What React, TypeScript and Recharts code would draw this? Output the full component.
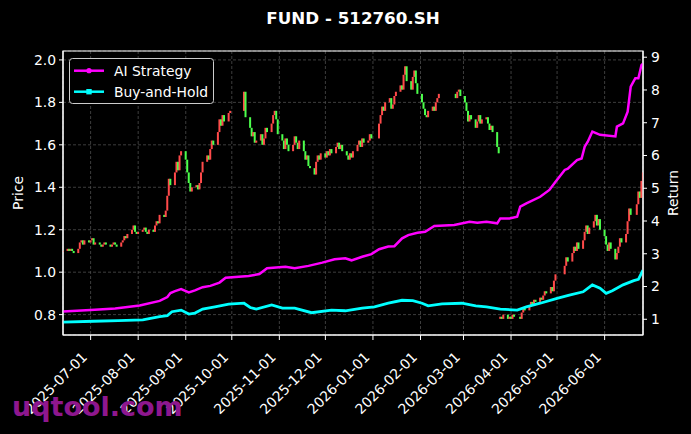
import React from 'react';
import { ComposedChart, Bar, Line, XAxis, YAxis, CartesianGrid, Legend, ReferenceArea } from 'recharts';

const FONT = '"DejaVu Sans", sans-serif';
const RED = '#ff4a4a';
const GREEN = '#4cff4c';
const MAGENTA = '#ff00ff';
const CYAN = '#00ffff';

const X_START = '2025-06-13';
const X_END = '2026-06-26';
const MONTH_TICKS = [
  '2025-07-01', '2025-08-01', '2025-09-01', '2025-10-01', '2025-11-01', '2025-12-01',
  '2026-01-01', '2026-02-01', '2026-03-01', '2026-04-01', '2026-05-01', '2026-06-01',
];
const PRICE_TICKS = [0.8, 1.0, 1.2, 1.4, 1.6, 1.8, 2.0];
const RETURN_TICKS = [1, 2, 3, 4, 5, 6, 7, 8, 9];
const PRICE_DOMAIN = [0.704, 2.042];
const RETURN_DOMAIN = [0.52, 9.19];

// exchange holidays (no candles on these weekdays)
const HOLIDAYS = [
  '2025-10-01', '2025-10-02', '2025-10-03', '2025-10-06', '2025-10-07', '2025-10-08',
  '2026-01-01', '2026-01-02',
  '2026-02-16', '2026-02-17', '2026-02-18', '2026-02-19', '2026-02-20', '2026-02-23',
  '2026-04-06', '2026-05-01', '2026-05-04', '2026-05-05', '2026-06-19',
];

const FIRST_OPEN = 1.10;
const SPLIT_DATE = '2026-03-25';
const SPLIT_RATIO = 2;

// daily closes, one list per month
const close2025_06 = [1.10, 1.11, 1.10, 1.11, 1.10, 1.09, 1.11, 1.14, 1.15, 1.13, 1.15, 1.14];
const close2025_07 = [1.15, 1.16, 1.13, 1.14, 1.13, 1.12, 1.13, 1.14, 1.13, 1.12, 1.13, 1.14, 1.13, 1.12, 1.14, 1.15, 1.17, 1.16, 1.18, 1.20, 1.22, 1.19, 1.18];
const close2025_08 = [1.19, 1.20, 1.21, 1.19, 1.18, 1.20, 1.19, 1.22, 1.24, 1.23, 1.27, 1.26, 1.29, 1.36, 1.44, 1.41, 1.47, 1.52, 1.48, 1.55, 1.57];
const close2025_09 = [1.53, 1.47, 1.42, 1.38, 1.40, 1.41, 1.39, 1.42, 1.47, 1.52, 1.55, 1.53, 1.58, 1.62, 1.60, 1.66, 1.72, 1.69, 1.74, 1.71, 1.75, 1.76];
const close2025_10 = [1.85, 1.73, 1.68, 1.64, 1.66, 1.61, 1.62, 1.65, 1.60, 1.63, 1.68, 1.66, 1.70, 1.74, 1.76, 1.72, 1.65];
const close2025_11 = [1.62, 1.58, 1.63, 1.60, 1.57, 1.60, 1.64, 1.61, 1.58, 1.62, 1.57, 1.53, 1.55, 1.50, 1.49, 1.46, 1.52, 1.55, 1.53, 1.56];
const close2025_12 = [1.54, 1.57, 1.55, 1.58, 1.56, 1.59, 1.61, 1.58, 1.60, 1.57, 1.55, 1.53, 1.56, 1.54, 1.57, 1.60, 1.62, 1.59, 1.63, 1.61, 1.62, 1.65, 1.63];
const close2026_01 = [1.70, 1.74, 1.78, 1.76, 1.80, 1.82, 1.77, 1.79, 1.83, 1.85, 1.88, 1.86, 1.93, 1.97, 1.90, 1.86, 1.92, 1.95, 1.89, 1.84];
const close2026_02 = [1.80, 1.77, 1.74, 1.73, 1.76, 1.78, 1.76, 1.80, 1.82, 1.84, 1.82, 1.85, 1.86, 1.83];
const close2026_03 = [1.80, 1.76, 1.71, 1.74, 1.72, 1.68, 1.71, 1.74, 1.70, 1.72, 1.73, 1.70, 1.67, 1.69, 1.66, 1.59, 1.56, 0.79, 0.78, 0.80, 0.78, 0.79];
const close2026_04 = [0.78, 0.80, 0.79, 0.78, 0.81, 0.83, 0.82, 0.84, 0.86, 0.85, 0.87, 0.86, 0.88, 0.87, 0.89, 0.91, 0.90, 0.93, 0.91, 0.96, 0.99];
const close2026_05 = [1.03, 1.07, 1.05, 1.09, 1.12, 1.10, 1.14, 1.11, 1.15, 1.19, 1.22, 1.18, 1.21, 1.24, 1.27, 1.22, 1.25, 1.20];
const close2026_06 = [1.17, 1.13, 1.10, 1.14, 1.11, 1.06, 1.09, 1.12, 1.16, 1.14, 1.18, 1.24, 1.30, 1.27, 1.32, 1.38, 1.35, 1.43, 1.47];

const MONTHS: [string, number, number[]][] = [
  ['2025-06', 13, close2025_06], ['2025-07', 1, close2025_07], ['2025-08', 1, close2025_08],
  ['2025-09', 1, close2025_09], ['2025-10', 1, close2025_10], ['2025-11', 1, close2025_11],
  ['2025-12', 1, close2025_12], ['2026-01', 1, close2026_01], ['2026-02', 1, close2026_02],
  ['2026-03', 1, close2026_03], ['2026-04', 1, close2026_04], ['2026-05', 1, close2026_05],
  ['2026-06', 1, close2026_06],
];

const AI_POINTS: [string, number][] = [
  ['2025-06-13', 1.24], ['2025-07-01', 1.28], ['2025-07-17', 1.33], ['2025-08-02', 1.42],
  ['2025-08-15', 1.56], ['2025-08-20', 1.68], ['2025-08-22', 1.80], ['2025-08-25', 1.86],
  ['2025-08-29', 1.92], ['2025-09-03', 1.82], ['2025-09-07', 1.88], ['2025-09-12', 1.98],
  ['2025-09-17', 2.02], ['2025-09-23', 2.12], ['2025-09-27', 2.27], ['2025-10-12', 2.32],
  ['2025-10-19', 2.38], ['2025-10-24', 2.56], ['2025-11-05', 2.60], ['2025-11-11', 2.56],
  ['2025-11-20', 2.63], ['2025-11-29', 2.73], ['2025-12-07', 2.83], ['2025-12-14', 2.86],
  ['2025-12-18', 2.80], ['2025-12-25', 2.91], ['2025-12-31', 2.99], ['2026-01-05', 3.14],
  ['2026-01-11', 3.22], ['2026-01-15', 3.23], ['2026-01-20', 3.47], ['2026-01-24', 3.57],
  ['2026-01-30', 3.64], ['2026-02-04', 3.67], ['2026-02-10', 3.85], ['2026-02-23', 3.88],
  ['2026-03-05', 3.98], ['2026-03-10', 3.95], ['2026-03-16', 3.98], ['2026-03-23', 3.93],
  ['2026-03-25', 4.08], ['2026-03-31', 4.08], ['2026-04-05', 4.13], ['2026-04-07', 4.44],
  ['2026-04-11', 4.54], ['2026-04-20', 4.74], ['2026-04-26', 4.95], ['2026-04-30', 5.20],
  ['2026-05-06', 5.56], ['2026-05-08', 5.60], ['2026-05-14', 5.86], ['2026-05-17', 5.91],
  ['2026-05-19', 6.27], ['2026-05-21', 6.42], ['2026-05-24', 6.73], ['2026-05-29', 6.63],
  ['2026-06-08', 6.58], ['2026-06-09', 6.88], ['2026-06-13', 6.98], ['2026-06-16', 7.34],
  ['2026-06-18', 8.10], ['2026-06-21', 8.36], ['2026-06-23', 8.36], ['2026-06-25', 8.76],
  ['2026-06-26', 8.80],
];

const BH_POINTS: [string, number][] = [
  ['2025-06-13', 0.91], ['2025-07-03', 0.94], ['2025-07-19', 0.96], ['2025-08-04', 0.98],
  ['2025-08-15', 1.08], ['2025-08-20', 1.11], ['2025-08-23', 1.23], ['2025-08-29', 1.28],
  ['2025-09-03', 1.16], ['2025-09-07', 1.19], ['2025-09-12', 1.31], ['2025-09-20', 1.38],
  ['2025-09-29', 1.46], ['2025-10-09', 1.49], ['2025-10-13', 1.36], ['2025-10-17', 1.31],
  ['2025-10-27', 1.44], ['2025-11-03', 1.34], ['2025-11-11', 1.34], ['2025-11-22', 1.20],
  ['2025-12-05', 1.28], ['2025-12-14', 1.26], ['2025-12-25', 1.34], ['2026-01-02', 1.38],
  ['2026-01-11', 1.49], ['2026-01-20', 1.58], ['2026-01-27', 1.57], ['2026-02-02', 1.49],
  ['2026-02-06', 1.41], ['2026-02-15', 1.47], ['2026-02-28', 1.49], ['2026-03-09', 1.41],
  ['2026-03-16', 1.38], ['2026-03-25', 1.31], ['2026-04-05', 1.28], ['2026-04-11', 1.38],
  ['2026-04-20', 1.49], ['2026-05-01', 1.64], ['2026-05-09', 1.74], ['2026-05-18', 1.84],
  ['2026-05-24', 2.05], ['2026-05-29', 1.95], ['2026-06-02', 1.79], ['2026-06-06', 1.87],
  ['2026-06-13', 2.05], ['2026-06-20', 2.18], ['2026-06-23', 2.22], ['2026-06-26', 2.50],
];

const LEGEND_ITEMS = [
  { name: 'AI Strategy', color: MAGENTA, marker: 'circle' },
  { name: 'Buy-and-Hold', color: CYAN, marker: 'square' },
];

const dayNum = (s: string) => Date.UTC(+s.slice(0, 4), +s.slice(5, 7) - 1, +s.slice(8, 10)) / 86400000;
const fmtDay = (n: number) => new Date(n * 86400000).toISOString().slice(0, 10);

function tradingDays(ym: string, from: number) {
  const [y, m] = ym.split('-').map(Number);
  const out: string[] = [];
  for (let d = from; d <= 31; d++) {
    const dt = new Date(Date.UTC(y, m - 1, d));
    if (dt.getUTCMonth() !== m - 1) break;
    const wd = dt.getUTCDay();
    const s = dt.toISOString().slice(0, 10);
    if (wd === 0 || wd === 6 || HOLIDAYS.includes(s)) continue;
    out.push(s);
  }
  return out;
}

type Row = { t: number; open?: number; close?: number; ai?: number; bh?: number };

const byT = new Map<number, Row>();
const rowFor = (s: string) => {
  const t = dayNum(s);
  if (!byT.has(t)) byT.set(t, { t });
  return byT.get(t)!;
};
let prevClose = FIRST_OPEN;
MONTHS.forEach(([ym, from, closes]) => {
  const days = tradingDays(ym, from);
  closes.forEach((c, i) => {
    if (!days[i]) return;
    const r = rowFor(days[i]);
    r.open = days[i] === SPLIT_DATE ? prevClose / SPLIT_RATIO : prevClose;
    r.close = c;
    prevClose = c;
  });
});
AI_POINTS.forEach(([s, v]) => { rowFor(s).ai = v; });
BH_POINTS.forEach(([s, v]) => { rowFor(s).bh = v; });
const DATA = [...byT.values()].sort((a, b) => a.t - b.t);

const Candle = (props: any) => {
  const { x, y, width, height, payload } = props;
  if (!payload || payload.close == null || x == null || isNaN(y)) return null;
  const top = Math.min(y, y + height);
  const h = Math.max(Math.abs(height), 1);
  const cx = x + width / 2;
  return <rect x={cx - 1} y={top} width={2} height={h} fill={payload.close >= payload.open ? RED : GREEN} />;
};

const DateTick = (props: any) => {
  const { x, y, payload } = props;
  const ax = x - 2.5;
  const ay = y + 16;
  return (
    <text x={ax} y={ay} transform={`rotate(-45 ${ax} ${ay})`} textAnchor="end" fill="#fff" fontSize={13.9} fontFamily={FONT}>
      {fmtDay(payload.value)}
    </text>
  );
};

const LegendBox = () => (
  <svg width={146} height={47} style={{ display: 'block' }}>
    <rect x={0.5} y={0.5} width={144} height={45} rx={3} fill="#000" stroke="#cccccc" />
    {LEGEND_ITEMS.map((s, i) => {
      const cy = 12.7 + 21 * i;
      return (
        <g key={s.name}>
          <line x1={5} x2={35} y1={cy} y2={cy} stroke={s.color} strokeWidth={2.5} />
          {s.marker === 'circle'
            ? <circle cx={20} cy={cy} r={2.6} fill={s.color} />
            : <rect x={17.3} y={cy - 2.7} width={5.4} height={5.4} fill={s.color} />}
          <text x={45} y={cy + 5} fill="#fff" fontSize={13.9} fontFamily={FONT}>{s.name}</text>
        </g>
      );
    })}
  </svg>
);

export default function App() {
  return (
    <div style={{ position: 'fixed', left: 0, top: 0, width: 691, height: 434, background: '#000', overflow: 'hidden' }}>
      <ComposedChart width={691} height={434} data={DATA} margin={{ top: 51, right: 0, bottom: 0, left: 0 }}>
        <CartesianGrid yAxisId="price" stroke="#4d4d4d" strokeDasharray="3 2" strokeWidth={0.8} />
        <XAxis
          dataKey="t"
          type="number"
          scale="linear"
          domain={[dayNum(X_START), dayNum(X_END)]}
          allowDataOverflow
          ticks={MONTH_TICKS.map(dayNum)}
          interval={0}
          height={99}
          stroke="#fff"
          tickSize={5}
          tickMargin={2}
          tick={<DateTick />}
        />
        <YAxis
          yAxisId="price"
          orientation="left"
          width={63}
          domain={PRICE_DOMAIN}
          allowDataOverflow
          ticks={PRICE_TICKS}
          tickFormatter={(v: number) => v.toFixed(1)}
          stroke="#fff"
          tickSize={4}
          tickMargin={3}
          tick={{ fill: '#fff', fontSize: 13.9, fontFamily: FONT }}
        />
        <YAxis
          yAxisId="ret"
          orientation="right"
          width={48}
          domain={RETURN_DOMAIN}
          allowDataOverflow
          ticks={RETURN_TICKS}
          stroke="#fff"
          tickSize={4}
          tickMargin={4}
          tick={{ fill: '#fff', fontSize: 13.9, fontFamily: FONT }}
        />
        <Bar
          yAxisId="price"
          dataKey={(d: Row) => (d.close == null ? null : [Math.min(d.open!, d.close), Math.max(d.open!, d.close)])}
          barSize={2}
          shape={<Candle />}
          isAnimationActive={false}
        />
        <Line yAxisId="ret" type="linear" dataKey="ai" stroke={MAGENTA} strokeWidth={2.5} dot={false} connectNulls isAnimationActive={false} />
        <Line yAxisId="ret" type="linear" dataKey="bh" stroke={CYAN} strokeWidth={2.8} dot={false} connectNulls isAnimationActive={false} />
        <ReferenceArea
          yAxisId="price"
          x1={dayNum(X_START)}
          x2={dayNum(X_END)}
          y1={PRICE_DOMAIN[0]}
          y2={PRICE_DOMAIN[1]}
          fill="none"
          fillOpacity={0}
          stroke="#fff"
          strokeWidth={1.2}
          ifOverflow="visible"
        />
        <Legend
          layout="vertical"
          align="center"
          verticalAlign="middle"
          wrapperStyle={{ top: 58, left: 69, width: 146, height: 47 }}
          content={() => <LegendBox />}
        />
      </ComposedChart>
      <svg width={691} height={434} style={{ position: 'absolute', left: 0, top: 0, pointerEvents: 'none' }}>
        <text x={353} y={24} textAnchor="middle" fill="#fff" fontSize={16.7} fontWeight="bold" fontFamily={FONT}>
          FUND - 512760.SH
        </text>
        <text transform="translate(22.5 193) rotate(-90)" textAnchor="middle" fill="#fff" fontSize={13.9} fontFamily={FONT}>
          Price
        </text>
        <text transform="translate(677.5 193) rotate(-90)" textAnchor="middle" fill="#fff" fontSize={13.9} fontFamily={FONT}>
          Return
        </text>
        <text x={12} y={416} fill="#8e178e" fontSize={27} fontWeight="bold" fontFamily={FONT}>
          uqtool.com
        </text>
      </svg>
    </div>
  );
}
